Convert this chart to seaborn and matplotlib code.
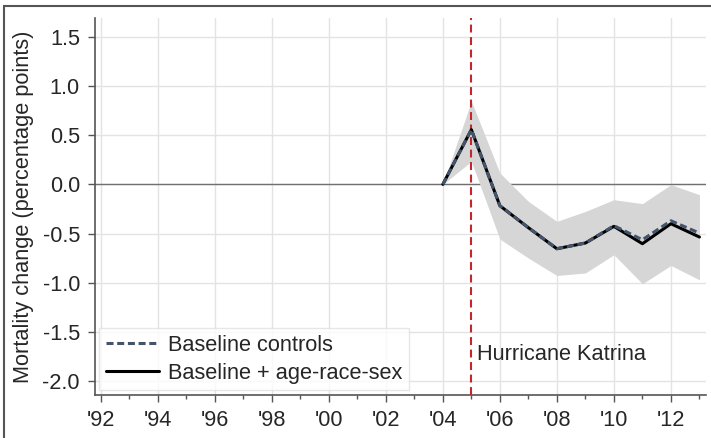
import numpy as np
import pandas as pd
import seaborn as sns
import matplotlib.pyplot as plt
from matplotlib.patches import Rectangle
from matplotlib.lines import Line2D
from matplotlib.ticker import MultipleLocator

# event-study estimates
years = [2004, 2005, 2006, 2007, 2008, 2009, 2010, 2011, 2012, 2013]
baseline = [0.0, 0.556, -0.217, -0.44, -0.654, -0.596, -0.42, -0.563, -0.37, -0.495]
age_race_sex = [0.0, 0.556, -0.217, -0.44, -0.654, -0.596, -0.427, -0.603, -0.40, -0.535]
ci_upper = [0.0, 0.845, 0.116, -0.173, -0.376, -0.275, -0.156, -0.196, -0.003, -0.105]
ci_lower = [0.0, 0.234, -0.556, -0.749, -0.926, -0.90, -0.715, -1.01, -0.824, -0.97]
tick_years = list(range(1992, 2013, 2))
tick_labels = ["'%02d" % (y % 100) for y in tick_years]
y_ticks = [-2.0, -1.5, -1.0, -0.5, 0.0, 0.5, 1.0, 1.5]

df = pd.DataFrame({'year': years * 2,
                   'est': baseline + age_race_sex,
                   'model': ['Baseline controls'] * len(years) + ['Baseline + age-race-sex'] * len(years)})

sns.set_style('white')
plt.rcParams['font.family'] = ['Liberation Sans', 'DejaVu Sans']
fs = 15.7
dash_blue = '#44546a'

fig = plt.figure(figsize=(7.11, 4.38), dpi=100)
ax = fig.add_axes([95/711, 1 - 395/438, 611/711, 377/438])

# grid
for y in tick_years:
    ax.axvline(y, color='#e3e3e3', lw=1, zorder=0)
for v in y_ticks:
    ax.axhline(v, color='#e3e3e3', lw=1, zorder=0)
ax.axhline(0, color='#707070', lw=1, zorder=1)

ax.fill_between(years, ci_lower, ci_upper, color='#d6d6d6', lw=0, zorder=2)
ax.axvline(2005, color='#c0282d', lw=1.5, ls=(0, (3.8, 2.2)), zorder=3)

# solid line drawn first, dashed on top
sns.lineplot(data=df, x='year', y='est', hue='model', style='model',
             palette={'Baseline controls': dash_blue, 'Baseline + age-race-sex': 'black'},
             dashes={'Baseline controls': (2.3, 1.2), 'Baseline + age-race-sex': ''},
             hue_order=['Baseline + age-race-sex', 'Baseline controls'],
             style_order=['Baseline + age-race-sex', 'Baseline controls'],
             lw=2.2, ax=ax, zorder=4, legend=False)

handles = [Line2D([], [], color=dash_blue, lw=2.2, ls=(0, (2.3, 1.2))),
           Line2D([], [], color='black', lw=2.2)]
leg = ax.legend(handles, ['Baseline controls', 'Baseline + age-race-sex'],
                loc='lower left', bbox_to_anchor=(0.0065, 0.013), borderaxespad=0,
                fontsize=fs, frameon=True, fancybox=False, handlelength=2.45,
                handletextpad=0.42, borderpad=0.3, labelspacing=0.3)
leg.get_frame().set_edgecolor('#e0e0e0')
leg.get_frame().set_linewidth(1)

ax.text(2005.2, -1.73, 'Hurricane Katrina', fontsize=fs, va='center', ha='left')

ax.set_xlim(1991.8, 2013.23)
ax.set_ylim(-2.14, 1.69)
ax.set_xticks(tick_years)
ax.set_xticklabels(tick_labels)
ax.xaxis.set_minor_locator(MultipleLocator(1))
ax.set_yticks(y_ticks)
ax.set_yticklabels(['%.1f' % v for v in y_ticks])
ax.tick_params(axis='x', which='major', direction='out', length=5, width=1,
               color='#555555', labelsize=fs, bottom=True, pad=5.5)
ax.tick_params(axis='y', which='major', direction='out', length=5, width=1,
               color='#555555', labelsize=fs, left=True, pad=5.8)
ax.tick_params(axis='x', which='minor', direction='out', length=3, width=1,
               color='#555555', bottom=True)
ax.set_xlabel('')
ax.set_ylabel('Mortality change (percentage points)', fontsize=fs, labelpad=6)
for s in ['top', 'right']:
    ax.spines[s].set_visible(False)
for s in ['left', 'bottom']:
    ax.spines[s].set_color('#555555')
    ax.spines[s].set_linewidth(1.2)

# outer frame (only top and left edges are inside the picture)
fig.patches.append(Rectangle((3.5/711, -0.1), 1.2, 1.1 - 5.5/438, transform=fig.transFigure,
                             fill=False, edgecolor='#555555', lw=1.5))

plt.savefig('out.png', dpi=100)
